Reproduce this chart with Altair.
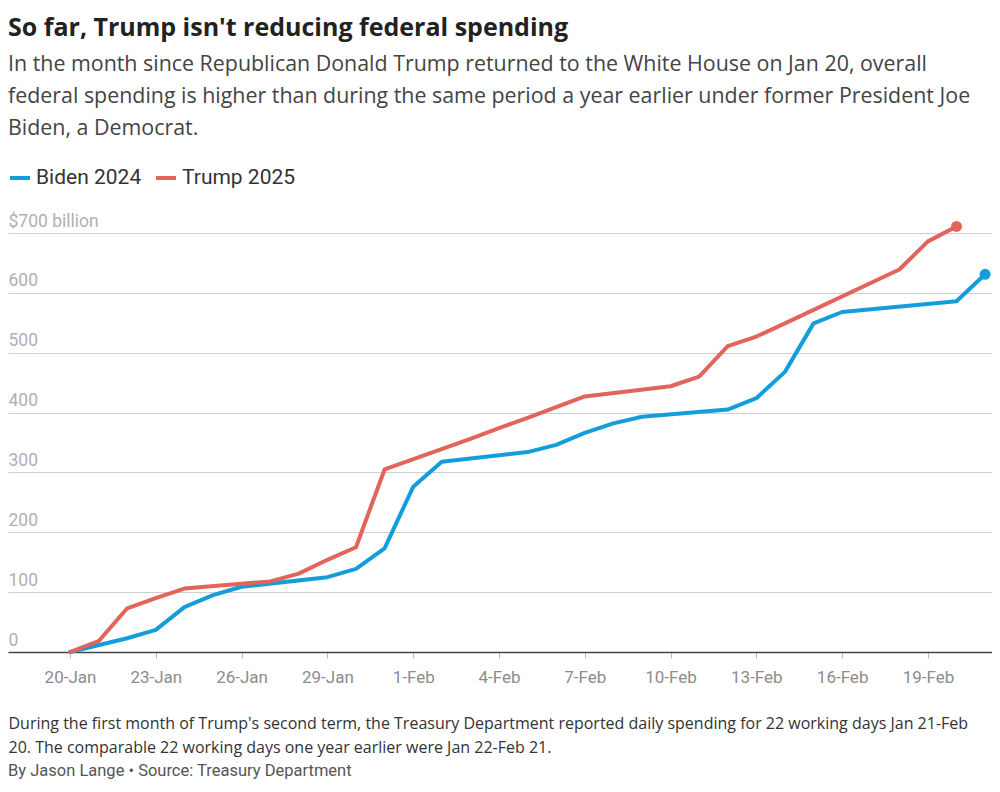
import altair as alt
import pandas as pd

# ---------------- data ----------------
title_text = "So far, Trump isn't reducing federal spending"
subtitle_lines = [
    "In the month since Republican Donald Trump returned to the White House on Jan 20, overall",
    "federal spending is higher than during the same period a year earlier under former President Joe",
    "Biden, a Democrat.",
]
note_lines = [
    "During the first month of Trump's second term, the Treasury Department reported daily spending for 22 working days Jan 21-Feb",
    "20. The comparable 22 working days one year earlier were Jan 22-Feb 21.",
]
byline = "By Jason Lange \u2022 Source: Treasury Department"

series_names = ["Biden 2024", "Trump 2025"]
series_colors = ["#139edb", "#e2645a"]

# Biden 2024 cumulative spending, plotted on the matching calendar day (billions $)
biden_dates = ["2025-01-20", "2025-01-22", "2025-01-23", "2025-01-24", "2025-01-25",
               "2025-01-26", "2025-01-29", "2025-01-30", "2025-01-31", "2025-02-01",
               "2025-02-02", "2025-02-05", "2025-02-06", "2025-02-07", "2025-02-08",
               "2025-02-09", "2025-02-12", "2025-02-13", "2025-02-14", "2025-02-15",
               "2025-02-16", "2025-02-20", "2025-02-21"]
biden_values = [0, 23, 37, 75, 95, 109, 125, 139, 173, 276, 318, 334, 346, 366, 382,
                393, 405, 424, 468, 549, 568, 586, 631]

# Trump 2025 cumulative spending (billions $)
trump_dates = ["2025-01-20", "2025-01-21", "2025-01-22", "2025-01-23", "2025-01-24",
               "2025-01-27", "2025-01-28", "2025-01-29", "2025-01-30", "2025-01-31",
               "2025-02-03", "2025-02-04", "2025-02-05", "2025-02-06", "2025-02-07",
               "2025-02-10", "2025-02-11", "2025-02-12", "2025-02-13", "2025-02-14",
               "2025-02-18", "2025-02-19", "2025-02-20"]
trump_values = [0, 18, 73, 90, 106, 118, 131, 154, 175, 305, 356, 374, 391, 409, 427,
                444, 460, 511, 527, 549, 639, 686, 711]

x_tick_dates = [(1, 20), (1, 23), (1, 26), (1, 29), (2, 1), (2, 4), (2, 7),
                (2, 10), (2, 13), (2, 16), (2, 19)]
y_ticks = [0, 100, 200, 300, 400, 500, 600, 700]

# ---------------- frames ----------------
rows = []
for d, v in zip(biden_dates, biden_values):
    rows.append({"date": d + "T00:00:00", "value": v, "series": series_names[0]})
for d, v in zip(trump_dates, trump_values):
    rows.append({"date": d + "T00:00:00", "value": v, "series": series_names[1]})
df = pd.DataFrame(rows)

last = pd.DataFrame([
    {"date": biden_dates[-1] + "T00:00:00", "value": biden_values[-1], "series": series_names[0]},
    {"date": trump_dates[-1] + "T00:00:00", "value": trump_values[-1], "series": series_names[1]},
])

FONT = "Roboto"
TFONT = "Open Sans"
W, H = 984, 419

x_domain = [alt.DateTime(year=2025, month=1, date=17, hours=19, minutes=58),
            alt.DateTime(year=2025, month=2, date=21, hours=5, minutes=46)]
x_scale = alt.Scale(domain=x_domain)
y_scale = alt.Scale(domain=[0, 700], nice=False)
color_scale = alt.Scale(domain=series_names, range=series_colors)

x_axis = alt.Axis(
    values=[alt.DateTime(year=2025, month=m, date=d) for m, d in x_tick_dates],
    format="%-d-%b", grid=False,
    domainColor="#444", domainWidth=1.5,
    tickColor="#bbb", tickSize=6, tickWidth=1,
    labelFont=FONT, labelFontSize=17, labelColor="#8c8c8c", labelPadding=11,
    labelFlush=False, labelOverlap=False,
    title=note_lines, titleFont=TFONT, titleFontSize=16, titleFontWeight="normal",
    titleColor="#333", titleAnchor="start", titleAlign="left", titleBaseline="top",
    titleX=0, titleY=63, titleLineHeight=24.5,
)
y_axis = alt.Axis(
    values=y_ticks, grid=True, gridColor="#cfcfcf", gridWidth=1,
    domain=False, ticks=False, tickSize=0,
    labelAlign="left", labelBaseline="alphabetic", labelPadding=0, labelOffset=-7,
    labelFont=FONT, labelFontSize=17.5, labelColor="#b0b0b0", labelOverlap=False,
    labelExpr="datum.value == 700 ? '$700 billion' : datum.label",
    title=None,
)

lines = alt.Chart(df).mark_line(strokeWidth=4, strokeCap="round", strokeJoin="round").encode(
    x=alt.X("date:T", scale=x_scale, axis=x_axis),
    y=alt.Y("value:Q", scale=y_scale, axis=y_axis),
    color=alt.Color("series:N", scale=color_scale, legend=alt.Legend(
        orient="none", legendX=0, legendY=-67, direction="horizontal", title=None,
        symbolType="stroke", symbolStrokeWidth=4, symbolSize=400,
        labelFont=FONT, labelFontSize=21, labelColor="#333",
        columnPadding=6, labelOffset=4, padding=0,
    )),
    detail="series:N",
)

dots = alt.Chart(last).mark_circle(size=120, opacity=1).encode(
    x=alt.X("date:T", scale=x_scale, axis=x_axis),
    y=alt.Y("value:Q", scale=y_scale, axis=y_axis),
    fill=alt.Fill("series:N", scale=color_scale, legend=None),
)

by = alt.Chart(pd.DataFrame({"t": [byline]})).mark_text(
    align="left", baseline="alphabetic", font=FONT, fontSize=16.5, color="#555"
).encode(text="t:N", x=alt.value(0), y=alt.value(H + 124))

chart = alt.layer(lines, dots, by).properties(
    width=W, height=H,
    padding={"left": 0, "top": 7, "right": 0, "bottom": 0},
    title=alt.TitleParams(
        text=title_text, subtitle=subtitle_lines, anchor="start",
        font=TFONT, fontSize=25, fontWeight="bold", color="#222",
        subtitleFont=TFONT, subtitleFontSize=21.4, subtitleColor="#444",
        subtitleLineHeight=32, subtitlePadding=13, offset=27,
    ),
).configure_view(stroke=None)

chart.save("out.html", embed_options={"renderer": "svg", "actions": False})
